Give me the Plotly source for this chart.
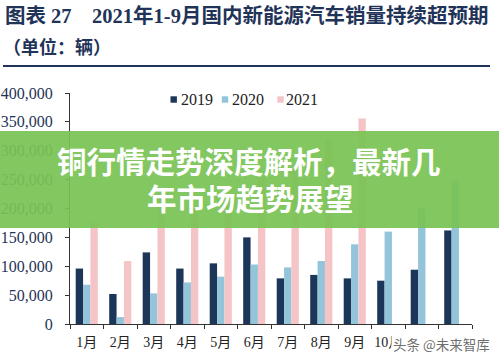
import plotly.graph_objects as go

months = ["1月", "2月", "3月", "4月", "5月", "6月", "7月", "8月", "9月", "10月", "11月", "12月"]
s2019 = [96000, 52000, 124000, 96000, 105000, 150000, 79000, 85000, 79000, 75000, 94000, 162000]
s2020 = [68000, 12000, 53000, 72000, 82000, 103000, 98000, 109000, 138000, 160000, 200000, 248000]
s2021 = [176000, 109000, 226000, 206000, 217000, 256000, 269000, 321000, 356000, None, None, None]
series_names = ["2019", "2020", "2021"]
colors = ["#1b3658", "#93c4da", "#f5c4c6"]

W, H = 499, 360
L, R, T, B = 70, 27, 93, 36
pw, ph = W - L - R, H - T - B

def px(x):
    return (x - L) / pw

def py(y):
    return (H - B - y) / ph

serif = "Liberation Serif, Noto Sans CJK SC"
navy = "#1f3458"

fig = go.Figure()
for name, vals, c in zip(series_names, [s2019, s2020, s2021], colors):
    fig.add_trace(go.Bar(x=months, y=vals, name=name, showlegend=False,
                         marker=dict(color=c, line=dict(width=0))))

fig.update_layout(
    width=W, height=H,
    margin=dict(l=L, r=R, t=T, b=B, autoexpand=False),
    paper_bgcolor="white", plot_bgcolor="white",
    barmode="group", bargap=0.34, bargroupgap=0.0,
    xaxis=dict(showline=True, linecolor="#333", linewidth=1, ticks="outside", ticklen=4,
               tickcolor="#333", tickson="boundaries", showgrid=False, tickangle=0,
               ticklabelstandoff=5, tickfont=dict(family=serif, size=14, color="#222")),
    yaxis=dict(range=[0, 400000], dtick=50000, tickformat=",", showline=True, linecolor="#333",
               linewidth=1, ticks="outside", ticklen=4, tickcolor="#333", showgrid=False,
               zeroline=False, ticklabelstandoff=9, tickfont=dict(family=serif, size=16, color=navy)),
)

# legend (square key + label), placed like the original
legend_sq_x = [173.7, 225.0, 280.5]
legend_tx_x = [178.5, 230.0, 284.0]
for name, c, sx, tx in zip(series_names, colors, legend_sq_x, legend_tx_x):
    fig.add_shape(type="rect", xref="paper", yref="paper",
                  x0=px(sx - 3.2), x1=px(sx + 3.2), y0=py(102.7), y1=py(96.3),
                  fillcolor=c, line=dict(width=0))
    fig.add_annotation(xref="paper", yref="paper", x=px(tx), y=py(99), xanchor="left",
                       yanchor="middle", text=name, showarrow=False,
                       font=dict(family=serif, size=16, color="#222"))

# header
fig.add_annotation(xref="paper", yref="paper", x=px(3), y=py(15), xanchor="left", yanchor="middle",
                   text="<b>图表 27    2021年1-9月国内新能源汽车销量持续超预期</b>", showarrow=False,
                   font=dict(family=serif, size=20.5, color=navy))
fig.add_annotation(xref="paper", yref="paper", x=px(1), y=py(47), xanchor="left", yanchor="middle",
                   text="<b>（单位：辆）</b>", showarrow=False,
                   font=dict(family=serif, size=18, color=navy))
fig.add_shape(type="line", xref="paper", yref="paper", x0=px(3), x1=px(490), y0=py(66), y1=py(66),
              line=dict(color=navy, width=2))

# green overlay banner
fig.add_shape(type="rect", xref="paper", yref="paper", x0=px(-2), x1=px(W + 2), y0=py(228), y1=py(131),
              fillcolor="rgba(122,195,84,0.93)", line=dict(width=0), layer="above")
fig.add_annotation(xref="paper", yref="paper", x=px(249), y=py(160), xanchor="center", yanchor="middle",
                   text="<b>铜行情走势深度解析，最新几</b>", showarrow=False,
                   font=dict(family="Noto Sans CJK SC", size=29.5, color="white"))
fig.add_annotation(xref="paper", yref="paper", x=px(250), y=py(197), xanchor="center", yanchor="middle",
                   text="<b>年市场趋势展望</b>", showarrow=False,
                   font=dict(family="Noto Sans CJK SC", size=29.5, color="white"))

# watermark
fig.add_annotation(xref="paper", yref="paper", x=px(492), y=py(344), xanchor="right", yanchor="middle",
                   text="头条 @未来智库", showarrow=False, bgcolor="white", borderpad=1,
                   font=dict(family="Noto Sans CJK SC", size=13.5, color="rgba(90,90,90,0.9)"))

fig.write_html("out.html", config={"displayModeBar": False},
               post_script="document.body.style.margin='0';")
